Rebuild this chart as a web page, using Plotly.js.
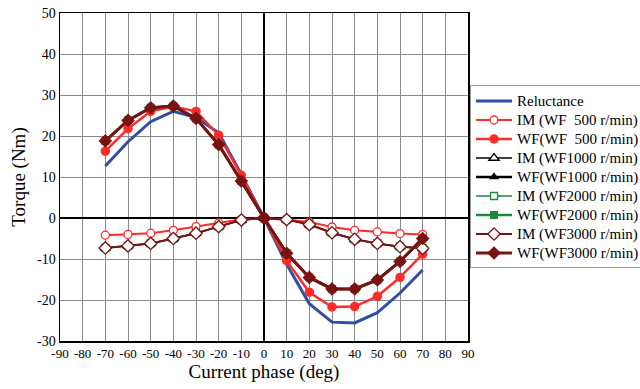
<!DOCTYPE html>
<html>
<head>
<meta charset="utf-8">
<script src="https://cdn.plot.ly/plotly-3.0.1.min.js"></script>
<style>html,body{margin:0;padding:0;background:#fff}#chart{width:640px;height:389px}</style>
</head>
<body>
<div id="chart"></div>
<script>
const phase = [-70,-60,-50,-40,-30,-20,-10,0,10,20,30,40,50,60,70];
const reluctance = [12.7,18.6,23.5,26.0,24.5,20.8,10.6,0,-11.3,-20.9,-25.4,-25.6,-23.1,-18.3,-12.7];
const imWF500 = [-4.2,-4.0,-3.7,-3.0,-2.1,-1.2,-0.3,0,-0.4,-1.0,-2.2,-3.0,-3.4,-3.8,-4.0];
const wfWF500 = [16.3,21.8,26.0,27.2,26.0,20.2,10.4,0,-10.4,-18.1,-21.7,-21.6,-19.1,-14.5,-8.8];
const imWF1000 = [-7.3,-6.8,-6.2,-5.0,-3.7,-2.1,-0.5,0,-0.4,-1.6,-3.6,-5.2,-6.2,-7.0,-7.4];
const wfWF1000 = [18.8,23.8,26.9,27.3,24.3,17.9,9.0,0,-8.6,-14.5,-17.3,-17.3,-15.1,-10.6,-5.0];
const imWF2000 = [-7.3,-6.8,-6.2,-5.0,-3.7,-2.1,-0.5,0,-0.4,-1.6,-3.6,-5.2,-6.2,-7.0,-7.4];
const wfWF2000 = [18.8,23.8,26.9,27.3,24.3,17.9,9.0,0,-8.6,-14.5,-17.3,-17.3,-15.1,-10.6,-5.0];
const imWF3000 = [-7.3,-6.8,-6.2,-5.0,-3.7,-2.1,-0.5,0,-0.4,-1.6,-3.6,-5.2,-6.2,-7.0,-7.4];
const wfWF3000 = [18.8,23.8,26.9,27.3,24.3,17.9,9.0,0,-8.6,-14.5,-17.3,-17.3,-15.1,-10.6,-5.0];
const names = ["Reluctance","IM (WF\u00a0\u00a0500 r/min)","WF(WF\u00a0\u00a0500 r/min)","IM (WF1000 r/min)","WF(WF1000 r/min)","IM (WF2000 r/min)","WF(WF2000 r/min)","IM (WF3000 r/min)","WF(WF3000 r/min)"];
const xTicks = [-90,-80,-70,-60,-50,-40,-30,-20,-10,0,10,20,30,40,50,60,70,80,90];
const yTicks = [-30,-20,-10,0,10,20,30,40,50];

const blue = "#2f4fa6", red = "#ff2a2a", black = "#000000", green = "#1a8a3a", dred = "#7a1212";
function tr(y, name, color, width, symbol, size, open){
  const t = {x: phase, y: y, name: '<span style="font-size:15px">' + name + '</span>',
    type: "scatter", mode: symbol ? "lines+markers" : "lines",
    line: {color: color, width: width}};
  if (symbol) t.marker = {symbol: symbol, size: size, color: open ? "#ffffff" : color,
    line: {color: color, width: open ? 1.3 : 0}};
  return t;
}
const data = [
  tr(reluctance, names[0], blue, 3, null),
  tr(imWF500, names[1], red, 2, "circle", 8, true),
  tr(wfWF500, names[2], red, 2.5, "circle", 9.5, false),
  tr(imWF1000, names[3], black, 1.5, "triangle-up", 9, true),
  tr(wfWF1000, names[4], black, 2.5, "triangle-up", 9, false),
  tr(imWF2000, names[5], green, 1.5, "square", 7, true),
  tr(wfWF2000, names[6], green, 2.5, "square", 8, false),
  tr(imWF3000, names[7], dred, 2, "diamond", 9.5, true),
  tr(wfWF3000, names[8], dred, 3, "diamond", 10.5, false)
];
const fam = "Liberation Serif, Times New Roman, serif";
const layout = {
  width: 640, height: 389,
  margin: {l: 60, r: 172, t: 13, b: 48, autoexpand: false},
  paper_bgcolor: "#fff", plot_bgcolor: "#fff",
  font: {family: fam, color: "#000"},
  showlegend: true,
  legend: {x: 1.005, xanchor: "left", y: 0.779, yanchor: "top",
    bordercolor: "#a0a0a0", borderwidth: 1, bgcolor: "#fff",
    font: {family: fam, size: 12, color: "#000"}, tracegroupgap: 0, itemwidth: 36},
  xaxis: {range: [-90, 90], tickvals: xTicks, ticktext: xTicks.map(String),
    showgrid: true, gridcolor: "#8a8a8a", gridwidth: 1,
    zeroline: true, zerolinecolor: "#000", zerolinewidth: 1.5,
    showline: true, linecolor: "#000", linewidth: 1.5, mirror: true,
    ticks: "", tickfont: {family: fam, size: 13, color: "#000"},
    title: {text: "Current phase (deg)", font: {family: fam, size: 19, color: "#000"}, standoff: 4}},
  yaxis: {range: [-30, 50], tickvals: yTicks, ticktext: yTicks.map(String),
    showgrid: true, gridcolor: "#8a8a8a", gridwidth: 1,
    zeroline: true, zerolinecolor: "#000", zerolinewidth: 1.5,
    showline: true, linecolor: "#000", linewidth: 1.5, mirror: true,
    ticks: "", tickfont: {family: fam, size: 14, color: "#000"},
    title: {text: "Torque (Nm)", font: {family: fam, size: 19, color: "#000"}, standoff: 6}}
};
Plotly.newPlot("chart", data, layout, {displayModeBar: false, staticPlot: true});
</script>
</body>
</html>
